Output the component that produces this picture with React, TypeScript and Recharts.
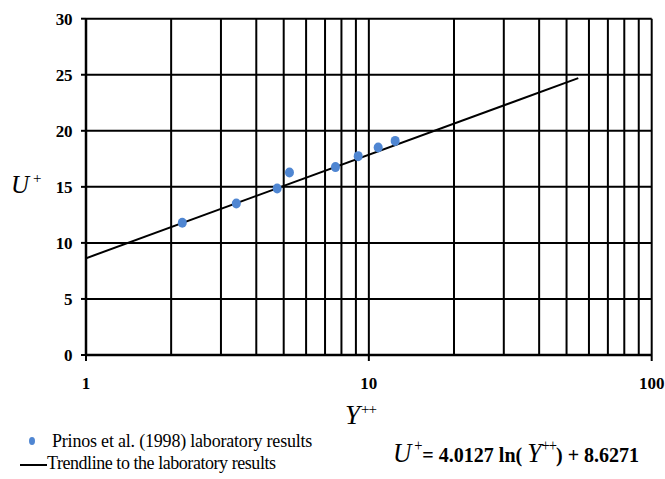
import React from 'react';
import { ComposedChart, XAxis, YAxis, CartesianGrid, Scatter } from 'recharts';

const xGridTicks = [1, 2, 3, 4, 5, 6, 7, 8, 9, 10, 20, 30, 40, 50, 60, 70, 80, 90, 100];
const xLabelTicks = [1, 10, 100];
const yTicks = [0, 5, 10, 15, 20, 25, 30];

const labX = [2.19, 3.4, 4.74, 5.24, 7.62, 9.17, 10.79, 12.39];
const labU = [11.79, 13.52, 14.86, 16.28, 16.76, 17.74, 18.51, 19.1];

const trendX = [1, 55];
const trendU = [8.63, 24.7];

const labData = labX.map((x, i) => ({ x, y: labU[i] }));
const trendData = trendX.map((x, i) => ({ x, y: trendU[i] }));

const FONT = 'Liberation Serif';
const BLUE = '#4F86D2';

const XTick = (props: any) => {
  const { x, payload } = props;
  const v = payload.value;
  if (!xLabelTicks.includes(v)) return null;
  return (
    <g>
      <line x1={x} y1={355} x2={x} y2={361} stroke="#000" strokeWidth={2} />
      <text x={x} y={389} textAnchor="middle" style={{ fontFamily: FONT }} fontWeight="bold" fontSize={17} fill="#000">
        {v}
      </text>
    </g>
  );
};

const YTick = (props: any) => {
  const { y, payload } = props;
  return (
    <text x={72} y={y + 6} textAnchor="end" style={{ fontFamily: FONT }} fontWeight="bold" fontSize={17} letterSpacing={-0.4} fill="#000">
      {payload.value}
    </text>
  );
};

const Dot = (props: any) => {
  const { cx, cy } = props;
  return <ellipse cx={cx} cy={cy} rx={4.5} ry={5} fill={BLUE} />;
};

export default function App() {
  return (
    <div style={{ position: 'absolute', left: 0, top: 0, width: 665, height: 479, background: '#fff', fontFamily: FONT }}>
      <ComposedChart width={665} height={479} margin={{ top: 18.7, right: 13.3, bottom: 94, left: 46 }}>
        <CartesianGrid stroke="#000" strokeWidth={2} strokeOpacity={1} />
        <XAxis
          type="number"
          dataKey="x"
          scale="log"
          domain={[1, 100]}
          ticks={xGridTicks}
          interval={0}
          height={30}
          axisLine={{ stroke: '#000', strokeWidth: 2.5 }}
          tickLine={false}
          tick={<XTick />}
          allowDataOverflow
        />
        <YAxis
          type="number"
          dataKey="y"
          domain={[0, 30]}
          ticks={yTicks}
          interval={0}
          width={40}
          axisLine={{ stroke: '#000', strokeWidth: 2.5 }}
          tickLine={{ stroke: '#000', strokeWidth: 2 }}
          tickSize={5}
          tick={<YTick />}
        />
        <Scatter
          data={trendData}
          line={{ stroke: '#000', strokeWidth: 2 }}
          shape={() => null}
          isAnimationActive={false}
        />
        <Scatter data={labData} shape={<Dot />} isAnimationActive={false} />
      </ComposedChart>

      <div style={{ position: 'absolute', left: 11, top: 172, fontSize: 25, fontStyle: 'italic', lineHeight: 1, whiteSpace: 'nowrap' }}>
        U<span style={{ fontSize: 15, fontStyle: 'normal', position: 'relative', top: -10, marginLeft: 4 }}>+</span>
      </div>
      <div style={{ position: 'absolute', left: 345, top: 402, fontSize: 27, fontStyle: 'italic', lineHeight: 1, whiteSpace: 'nowrap' }}>
        Y<span style={{ fontSize: 15, fontStyle: 'normal', position: 'relative', top: -10, marginLeft: 1, letterSpacing: -1 }}>++</span>
      </div>

      <div style={{ position: 'absolute', left: 29, top: 437, width: 6, height: 8, borderRadius: '50%', background: BLUE }} />
      <div style={{ position: 'absolute', left: 52, top: 431.6, fontSize: 18, lineHeight: 1, whiteSpace: 'nowrap', letterSpacing: -0.2 }}>
        Prinos et al. (1998) laboratory results
      </div>
      <div style={{ position: 'absolute', left: 20, top: 464, width: 27, height: 2, background: '#000' }} />
      <div style={{ position: 'absolute', left: 47, top: 454, fontSize: 18, lineHeight: 1, whiteSpace: 'nowrap', letterSpacing: -0.45 }}>
        Trendline to the laboratory results
      </div>

      <div
        style={{
          position: 'absolute',
          left: 393,
          top: 439,
          lineHeight: 1,
          whiteSpace: 'nowrap',
          transform: 'scaleX(0.91)',
          transformOrigin: 'left top',
        }}
      >
        <span style={{ fontSize: 28, fontStyle: 'italic' }}>U</span>
        <span style={{ fontSize: 16, position: 'relative', top: -11, marginLeft: 3 }}>+</span>
        <span style={{ fontSize: 22, fontWeight: 'bold' }}>= 4.0127 ln( </span>
        <span style={{ fontSize: 28, fontStyle: 'italic' }}>Y</span>
        <span style={{ fontSize: 16, position: 'relative', top: -11, letterSpacing: -1 }}>++</span>
        <span style={{ fontSize: 22, fontWeight: 'bold' }}>) + 8.6271</span>
      </div>
    </div>
  );
}
